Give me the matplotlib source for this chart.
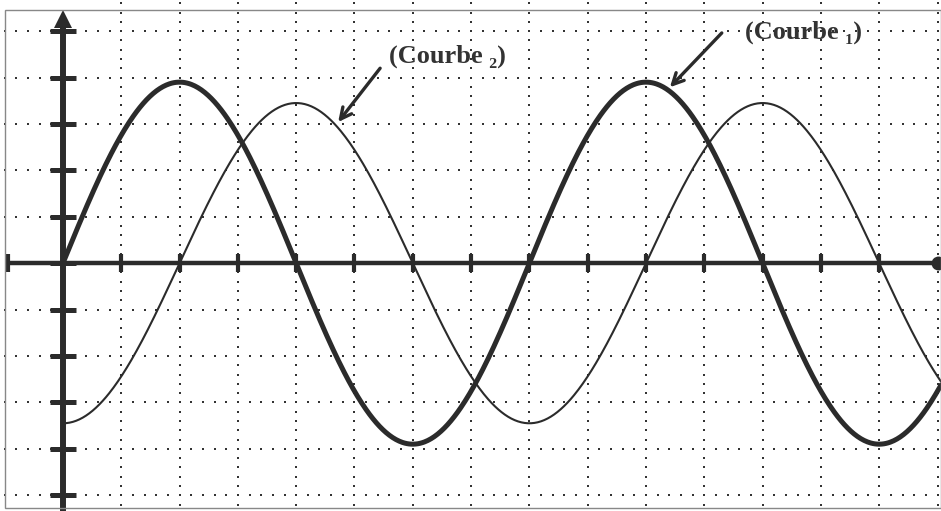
import numpy as np
import matplotlib
matplotlib.use("Agg")
from matplotlib import pyplot as plt
from matplotlib.patches import Rectangle

# --- values (1 unit = 1 grid division) ---
periode = 8.0                 # divisions per period
amplitudes = [3.9, 3.45]      # Courbe 1 (thick), Courbe 2 (thin)
retards = [0.0, 2.0]          # delay of each curve, divisions
noms = ["(Courbe \u2081)", "(Courbe \u2082)"]
pos_textes = [(12.7, 4.98), (6.6, 4.45)]
pos_fleches = [((11.30, 4.96), (10.41, 3.79)), ((5.44, 4.20), (4.72, 3.04))]
x_ticks = [-0.94] + list(range(0, 15))
y_ticks = list(range(-5, 6))
x_grid = list(range(1, 16))
y_grid = [v for v in range(-5, 6) if v != 0]

xmin, xmax = -1.08, 15.06
ymin, ymax = -5.34, 5.67
ink = "#2b2b2b"

fig = plt.figure(figsize=(9.41, 5.11), dpi=100)
ax = fig.add_axes([0, 0, 1, 1])
ax.set_xlim(xmin, xmax)
ax.set_ylim(ymin, ymax)

# dotted grid, 5 dots per division
sub = np.arange(-1.0, xmax + 0.01, 0.2)
for y in y_grid:
    ax.plot(sub, np.full_like(sub, y), ls="none", marker="s", ms=2.0,
            mew=0, color="#333333", zorder=1)
sub = np.arange(-5.4, ymax + 0.01, 0.2)
for x in x_grid:
    ax.plot(np.full_like(sub, x), sub, ls="none", marker="s", ms=2.0,
            mew=0, color="#333333", zorder=1)

# axes through the origin
for s in ["top", "right"]:
    ax.spines[s].set_visible(False)
ax.spines["left"].set_position(("data", 0))
ax.spines["bottom"].set_position(("data", 0))
ax.spines["left"].set_linewidth(4.3)
ax.spines["bottom"].set_linewidth(3.2)
ax.spines["left"].set_color(ink)
ax.spines["bottom"].set_color(ink)
ax.spines["bottom"].set_bounds(-0.94, 15.0)
ax.spines["left"].set_bounds(ymin, 5.2)
ax.set_xticks(x_ticks)
ax.set_yticks(y_ticks)
ax.tick_params(axis="x", direction="inout", length=13, width=3.0,
               color=ink, labelbottom=False)
ax.tick_params(axis="y", direction="inout", length=19, width=3.6,
               color=ink, labelleft=False)
ax.plot([0], [5.25], marker="^", ms=13, color=ink, mew=0, zorder=5,
        clip_on=False)
ax.plot([15.0], [0], marker="o", ms=10, color=ink, mew=0, zorder=5)

# curves
t = np.linspace(0, xmax, 800)
largeurs = [3.6, 1.5]
for a, r, lw in zip(amplitudes, retards, largeurs):
    y = a * np.sin(2 * np.pi * (t - r) / periode)
    ax.plot(t, y, color=ink, lw=lw, zorder=4, solid_capstyle="round")

# labels and arrows
for nom, (tx, ty), (tail, head) in zip(noms, pos_textes, pos_fleches):
    ax.text(tx, ty, nom, ha="center", va="center", fontsize=19,
            fontweight="bold", color="#333333",
            family=["Liberation Serif", "DejaVu Serif"], zorder=6)
    ax.annotate("", xy=head, xytext=tail,
                arrowprops=dict(arrowstyle="->,head_length=0.8,head_width=0.4",
                                color=ink, lw=2.4, shrinkA=0, shrinkB=0),
                zorder=6)

# scanned page border
fig.patches.append(Rectangle((5 / 941, 3 / 511), 1 - 5 / 941, 1 - 13 / 511,
                             transform=fig.transFigure, fill=False,
                             ec="#888888", lw=1.0))

fig.savefig("out.png", dpi=100)
